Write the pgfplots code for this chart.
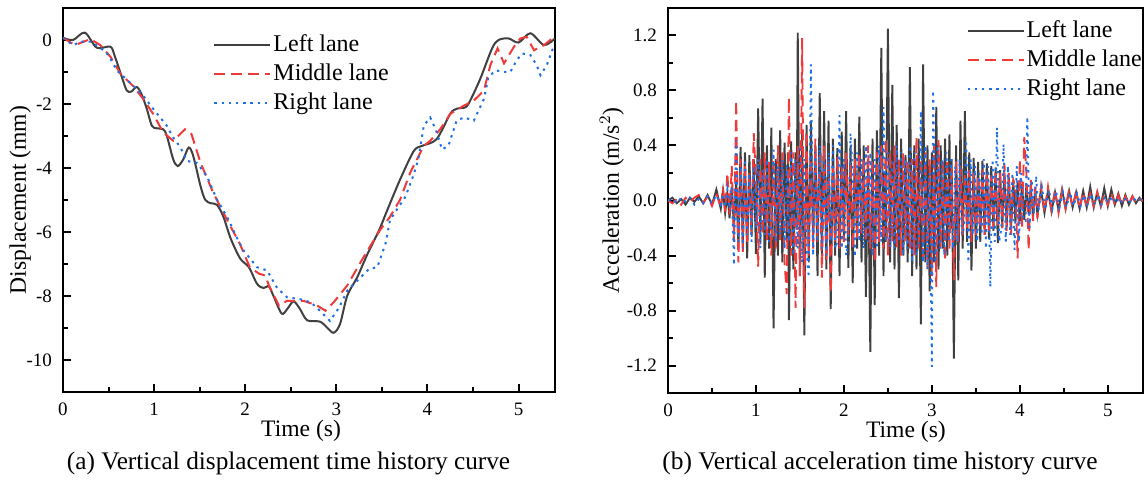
\documentclass[border=0pt]{standalone}
\usepackage{fontspec}
\setmainfont{Liberation Serif}
\usepackage{pgfplots}
\pgfplotsset{compat=1.18}

\definecolor{lanegray}{RGB}{64,64,64}
\definecolor{lanered}{RGB}{240,58,58}
\definecolor{laneblue}{RGB}{30,112,232}

\pgfplotsset{
  panel/.style={
    scale only axis,
    axis line style={line width=1.3pt},
    tick align=inside,
    xtick pos=left, ytick pos=left,
    major tick length=4pt, minor tick length=2.5pt,
    every tick/.style={line width=1pt, black},
    xmin=0, xmax=5.4, xtick={0,1,2,3,4,5},
    minor x tick num=1, minor y tick num=1,
    tick label style={font=\fontsize{9.5}{10}\selectfont},
    xticklabel style={yshift=-2pt},
    yticklabel style={xshift=-2pt},
    /pgf/number format/assume math mode=true,
    label style={font=\fontsize{11.8}{12}\selectfont},
    legend style={draw=none, fill=none, anchor=north west, inner sep=0pt,
      font=\fontsize{12}{13}\selectfont, row sep=1.5pt,
      nodes={text height=8.5pt, text depth=2.5pt, inner sep=1pt}},
    legend cell align=left,
    legend image code/.code={\draw[#1] (0pt,0pt) -- (28pt,0pt);},
  },
  lleft/.style={lanegray, line width=1pt},
  lmid/.style={lanered, line width=1pt, dash pattern=on 5.5pt off 3pt},
  lright/.style={laneblue, line width=1pt, dash pattern=on 1.2pt off 2.4pt},
}

\begin{document}
\begin{tikzpicture}
\path[use as bounding box] (0,0) rectangle (574pt,-241pt);

% (a) displacement
\begin{axis}[
  panel,
  at={(31.5pt,-4pt)}, anchor=north west,
  width=246pt, height=192pt,
  ymin=-11, ymax=1,
  ytick={-10,-8,-6,-4,-2,0},
  xlabel={Time (s)},
  ylabel={Displacement (mm)},
  xlabel style={at={(axis description cs:0.484,-0.1)}, anchor=center},
  ylabel style={at={(axis description cs:-0.087,0.5)}, anchor=center},
  legend style={at={(axis description cs:0.305,0.938)}},
]
\addplot[lleft, smooth] coordinates {
  (0,0.07) (0.11,0.00) (0.24,0.23) (0.37,-0.24) (0.52,-0.21) (0.57,-0.52)
  (0.645,-1.15) (0.70,-1.58) (0.75,-1.61) (0.81,-1.47) (0.86,-1.68) (0.92,-2.15)
  (0.975,-2.68) (1.03,-2.76) (1.10,-2.79) (1.14,-3.0) (1.21,-3.73) (1.26,-3.94)
  (1.32,-3.73) (1.38,-3.36) (1.43,-3.63) (1.51,-4.57) (1.56,-4.99) (1.62,-5.10)
  (1.69,-5.15) (1.76,-5.52) (1.84,-6.20) (1.945,-6.83) (2.04,-7.10) (2.13,-7.62)
  (2.20,-7.75) (2.26,-7.70) (2.31,-8.0) (2.40,-8.55) (2.46,-8.41) (2.53,-8.17)
  (2.60,-8.40) (2.68,-8.76) (2.82,-8.80) (2.90,-8.99) (2.97,-9.15) (3.04,-8.88)
  (3.12,-7.99) (3.23,-7.41) (3.34,-6.70) (3.47,-5.94) (3.56,-5.31) (3.70,-4.36)
  (3.85,-3.47) (3.94,-3.31) (4.10,-3.10) (4.25,-2.31) (4.32,-2.15) (4.42,-2.10)
  (4.47,-1.89) (4.58,-1.21) (4.71,-0.26) (4.78,0.00) (4.89,0.05) (5.00,-0.08)
  (5.13,0.21) (5.28,-0.16) (5.40,0.05)
};
\addplot[lmid] coordinates {
  (0,0.07) (0.13,-0.16) (0.30,0.03) (0.41,-0.16) (0.52,-0.52) (0.63,-1.05)
  (0.77,-1.44) (0.88,-1.84) (0.99,-2.31) (1.10,-2.89) (1.21,-3.15) (1.34,-2.79)
  (1.41,-2.94) (1.51,-3.84) (1.65,-4.78) (1.80,-5.62) (1.94,-6.36) (2.05,-7.1)
  (2.15,-7.30) (2.22,-7.36) (2.26,-7.67) (2.37,-8.30) (2.46,-8.15) (2.64,-8.15)
  (2.79,-8.30) (2.88,-8.46) (2.97,-8.20) (3.12,-7.67) (3.30,-6.78) (3.48,-5.94)
  (3.59,-5.52) (3.70,-4.99) (3.81,-4.15) (3.96,-3.31) (4.03,-3.15) (4.14,-2.79)
  (4.25,-2.31) (4.40,-2.05) (4.51,-1.89) (4.62,-1.58) (4.69,-0.79) (4.77,-0.26)
  (4.84,-0.73) (4.95,-0.21) (5.02,0.05) (5.09,0.10) (5.17,-0.32) (5.28,-0.16)
  (5.39,0.10)
};
\addplot[lright] coordinates {
  (0,0.07) (0.11,-0.16) (0.20,-0.05) (0.30,-0.05) (0.41,-0.24) (0.50,-0.47)
  (0.59,-0.95) (0.75,-1.37) (0.88,-1.74) (0.99,-2.15) (1.14,-2.68) (1.21,-3.05)
  (1.29,-3.36) (1.36,-3.78) (1.47,-3.84) (1.58,-4.26) (1.69,-4.99) (1.80,-5.52)
  (1.93,-6.31) (1.98,-6.57) (2.13,-7.10) (2.24,-7.20) (2.35,-7.75) (2.46,-8.04)
  (2.60,-8.10) (2.72,-8.20) (2.82,-8.46) (2.93,-8.78) (3.03,-8.36) (3.12,-7.83)
  (3.23,-7.52) (3.36,-7.15) (3.45,-7.10) (3.54,-6.36) (3.59,-5.62) (3.76,-4.89)
  (3.85,-4.20) (3.90,-3.73) (3.96,-2.68) (4.03,-2.42) (4.09,-2.79) (4.16,-3.42)
  (4.23,-3.31) (4.32,-2.52) (4.40,-2.42) (4.51,-2.52) (4.62,-1.84) (4.67,-1.15)
  (4.75,-0.95) (4.84,-1.00) (4.91,-1.00) (4.98,-0.63) (5.04,-0.42) (5.13,-0.47)
  (5.20,-0.79) (5.24,-1.10) (5.31,-0.79) (5.39,-0.16)
};
\legend{Left lane, Middle lane, Right lane}
\end{axis}

% (b) acceleration
\begin{axis}[
  panel,
  at={(334pt,-4pt)}, anchor=north west,
  width=237.5pt, height=192.5pt,
  ymin=-1.4, ymax=1.4,
  ytick={-1.2,-0.8,-0.4,0,0.4,0.8,1.2},
  yticklabel style={/pgf/number format/.cd, fixed, fixed zerofill, precision=1},
  xlabel={Time (s)},
  ylabel={Acceleration (m/s$^2$)},
  xlabel style={at={(axis description cs:0.501,-0.1)}, anchor=center},
  ylabel style={at={(axis description cs:-0.118,0.5)}, anchor=center},
  legend style={at={(axis description cs:0.628,0.974)}},
]
\addplot[lleft, line width=0.95pt] coordinates {
  (0,0) (0.05,0.02) (0.1,-0.02) (0.15,0.01) (0.2,-0.03) (0.25,0.02) (0.3,-0.01)
  (0.35,0.03) (0.4,-0.02) (0.45,0.04) (0.5,-0.03) (0.55,0.08) (0.6,-0.06)
  (0.625,0.07) (0.65,-0.09) (0.675,0.05) (0.7,-0.13) (0.725,0.1) (0.75,-0.2)
  (0.775,0.15) (0.8,-0.35) (0.825,0.39) (0.85,-0.3) (0.875,0.35) (0.9,-0.42)
  (0.925,0.33) (0.95,-0.25) (0.975,0.3) (1,-0.39) (1.025,0.67) (1.05,-0.3)
  (1.075,0.74) (1.1,-0.56) (1.125,0.4) (1.15,-0.35) (1.175,0.53) (1.2,-0.93)
  (1.225,0.3) (1.25,-0.4) (1.275,0.51) (1.3,-0.45) (1.325,0.42) (1.35,-0.3)
  (1.3625,0.35) (1.375,-0.87) (1.4,0.43) (1.425,-0.5) (1.45,0.35) (1.4625,-0.2)
  (1.475,1.22) (1.5,-0.55) (1.525,0.5) (1.55,-0.98) (1.575,0.55) (1.6,-0.45)
  (1.625,0.58) (1.65,-0.3) (1.675,0.4) (1.7,-0.55) (1.725,0.78) (1.75,-0.4)
  (1.775,0.65) (1.8,-0.5) (1.825,0.58) (1.85,-0.79) (1.875,0.45) (1.9,-0.4)
  (1.925,0.38) (1.95,-0.55) (1.975,0.5) (2,-0.3) (2.025,0.65) (2.05,-0.49)
  (2.075,0.4) (2.1,-0.6) (2.125,0.45) (2.15,-0.35) (2.175,0.61) (2.2,-0.45)
  (2.225,0.4) (2.25,-0.7) (2.275,0.3) (2.3,-1.1) (2.325,0.45) (2.35,-0.76)
  (2.375,0.51) (2.4,-0.4) (2.425,1.11) (2.45,-0.55) (2.4625,0.2) (2.475,-0.3)
  (2.5,1.25) (2.525,-0.45) (2.55,0.84) (2.575,-0.5) (2.6,0.55) (2.625,-0.71)
  (2.65,0.45) (2.675,-0.4) (2.7,0.33) (2.725,-0.45) (2.75,0.97) (2.775,-0.55)
  (2.8,0.4) (2.825,-0.5) (2.85,0.45) (2.875,-0.9) (2.9,0.99) (2.925,-0.45)
  (2.95,0.4) (2.975,-0.66) (3,0.35) (3.025,-0.45) (3.05,0.68) (3.075,-0.5)
  (3.1,0.4) (3.125,-0.35) (3.15,0.45) (3.175,-0.4) (3.2,0.48) (3.2125,-0.2)
  (3.225,0.3) (3.25,-1.15) (3.275,0.4) (3.3,-0.58) (3.325,0.58) (3.35,-0.35)
  (3.375,0.65) (3.4,-0.3) (3.425,0.35) (3.45,-0.51) (3.475,0.31) (3.5,-0.35)
  (3.525,0.28) (3.55,-0.3) (3.575,0.29) (3.6,-0.25) (3.625,0.27) (3.65,-0.28)
  (3.675,0.25) (3.7,-0.22) (3.725,0.24) (3.75,-0.31) (3.775,0.22) (3.8,-0.2)
  (3.825,0.2) (3.85,-0.18) (3.875,0.17) (3.9,-0.2) (3.925,0.15) (3.95,-0.16)
  (3.975,0.14) (4,-0.15) (4.025,0.12) (4.05,-0.14) (4.075,0.12) (4.1,-0.1)
  (4.125,0.1) (4.15,-0.12) (4.175,0.08) (4.2,-0.1) (4.24,0.08) (4.28,-0.09)
  (4.32,0.07) (4.36,-0.08) (4.4,0.06) (4.44,-0.07) (4.48,0.08) (4.52,-0.06)
  (4.56,0.07) (4.6,-0.05) (4.64,0.06) (4.68,-0.06) (4.72,0.07) (4.76,-0.05)
  (4.8,0.1) (4.84,-0.05) (4.88,0.06) (4.92,-0.04) (4.96,0.09) (5,-0.04)
  (5.04,0.08) (5.08,-0.03) (5.12,0.05) (5.16,-0.04) (5.2,0.04) (5.24,-0.03)
  (5.28,0.03) (5.32,-0.02) (5.36,0.02) (5.4,-0.01)
};
\addplot[lmid, line width=0.95pt] coordinates {
  (0,0) (0.05,-0.02) (0.1,0.01) (0.15,-0.03) (0.2,0.02) (0.25,-0.01) (0.3,0.02)
  (0.35,0.04) (0.4,-0.02) (0.45,0.03) (0.5,-0.04) (0.55,0.05) (0.6,-0.05)
  (0.625,0.1) (0.65,-0.08) (0.675,0.2) (0.7,-0.1) (0.725,0.25) (0.75,-0.3)
  (0.775,0.73) (0.8,-0.45) (0.825,0.3) (0.85,-0.38) (0.875,0.25) (0.9,-0.3)
  (0.925,0.2) (0.95,-0.25) (0.975,0.49) (1,0.15) (1.025,-0.48) (1.05,0.3)
  (1.075,-0.25) (1.1,0.35) (1.125,-0.3) (1.15,0.28) (1.175,-0.4) (1.2,0.3)
  (1.225,-0.35) (1.25,0.4) (1.275,-0.3) (1.3,0.35) (1.325,-0.45) (1.35,-0.68)
  (1.375,0.75) (1.4,-0.4) (1.425,0.35) (1.45,-0.78) (1.475,0.4) (1.5,-0.55)
  (1.525,1.18) (1.55,-0.78) (1.575,0.5) (1.6,-0.4) (1.625,0.3) (1.65,-0.35)
  (1.675,0.45) (1.7,-0.3) (1.725,0.35) (1.75,-0.56) (1.775,0.4) (1.8,-0.45)
  (1.825,0.3) (1.85,-0.67) (1.875,0.25) (1.9,-0.3) (1.925,0.32) (1.95,-0.35)
  (1.975,0.25) (2,-0.3) (2.025,0.35) (2.05,-0.25) (2.075,0.27) (2.1,-0.35)
  (2.125,0.3) (2.15,-0.28) (2.175,0.35) (2.2,-0.24) (2.225,0.3) (2.25,-0.3)
  (2.275,0.4) (2.3,-0.35) (2.325,0.3) (2.35,-0.45) (2.375,0.35) (2.4,-0.3)
  (2.425,0.4) (2.45,-0.35) (2.475,0.45) (2.5,-0.4) (2.525,0.35) (2.55,-0.3)
  (2.575,0.4) (2.6,-0.35) (2.625,0.3) (2.65,-0.4) (2.675,0.35) (2.7,-0.3)
  (2.725,0.3) (2.75,-0.35) (2.775,0.3) (2.8,-0.4) (2.825,0.46) (2.85,-0.35)
  (2.875,0.3) (2.9,-0.45) (2.925,0.35) (2.95,-0.5) (2.975,0.3) (3,-0.55)
  (3.025,0.4) (3.05,-0.63) (3.075,0.44) (3.1,-0.35) (3.125,0.3) (3.15,-0.44)
  (3.175,0.3) (3.2,-0.35) (3.225,0.25) (3.25,-0.58) (3.275,0.3) (3.3,-0.3)
  (3.325,0.25) (3.35,-0.25) (3.375,0.2) (3.4,-0.2) (3.425,0.22) (3.45,-0.3)
  (3.475,0.2) (3.5,-0.25) (3.525,0.18) (3.55,-0.2) (3.575,0.22) (3.6,-0.25)
  (3.625,0.2) (3.65,-0.22) (3.675,0.18) (3.7,-0.2) (3.725,0.22) (3.75,-0.18)
  (3.775,0.2) (3.8,-0.2) (3.825,0.27) (3.85,-0.22) (3.875,0.2) (3.9,-0.25)
  (3.925,0.15) (3.95,0.1) (3.975,-0.42) (4,0.3) (4.025,-0.2) (4.05,0.46)
  (4.075,0.2) (4.1,-0.36) (4.125,0.15) (4.15,-0.15) (4.175,0.1) (4.2,-0.13)
  (4.24,0.1) (4.28,-0.08) (4.32,0.1) (4.36,-0.07) (4.4,0.08) (4.44,-0.09)
  (4.48,0.07) (4.52,-0.06) (4.56,0.08) (4.6,-0.05) (4.64,0.07) (4.68,-0.06)
  (4.72,0.06) (4.76,-0.05) (4.8,0.05) (4.84,-0.04) (4.88,0.06) (4.92,-0.04)
  (4.96,0.04) (5,-0.03) (5.04,0.05) (5.08,-0.03) (5.12,0.04) (5.16,-0.03)
  (5.2,0.03) (5.24,-0.02) (5.28,0.03) (5.32,-0.02) (5.36,0.01) (5.4,0)
};
\addplot[lright, line width=0.95pt] coordinates {
  (0,0) (0.05,0.01) (0.1,-0.02) (0.15,0.02) (0.2,-0.01) (0.25,0.02) (0.3,-0.03)
  (0.35,0.01) (0.4,-0.02) (0.45,0.03) (0.5,-0.02) (0.55,0.04) (0.6,-0.03)
  (0.625,0.05) (0.65,-0.05) (0.675,0.08) (0.7,-0.06) (0.725,0.1) (0.75,-0.47)
  (0.775,0.44) (0.8,-0.3) (0.825,0.25) (0.85,-0.35) (0.875,0.3) (0.9,-0.25)
  (0.925,0.2) (0.95,-0.3) (0.975,0.25) (1,-0.2) (1.025,0.3) (1.05,-0.35)
  (1.075,0.22) (1.1,-0.25) (1.125,0.3) (1.15,-0.3) (1.175,-0.2) (1.2,0.37)
  (1.225,-0.3) (1.25,0.25) (1.275,-0.25) (1.3,0.3) (1.325,-0.35) (1.35,0.25)
  (1.375,-0.3) (1.4,0.35) (1.425,-0.4) (1.45,0.3) (1.475,-0.35) (1.5,0.4)
  (1.525,-0.45) (1.55,0.3) (1.575,-0.35) (1.6,-0.56) (1.625,0.99) (1.65,-0.4)
  (1.675,0.35) (1.7,-0.3) (1.725,0.4) (1.75,-0.35) (1.775,0.3) (1.8,-0.4)
  (1.825,0.35) (1.85,-0.3) (1.875,0.4) (1.9,-0.35) (1.925,-0.3) (1.95,0.62)
  (1.975,-0.35) (2,0.3) (2.025,-0.4) (2.05,-0.3) (2.075,0.49) (2.1,0.2)
  (2.125,-0.41) (2.15,0.35) (2.175,-0.3) (2.2,0.3) (2.225,-0.35) (2.25,0.4)
  (2.275,-0.3) (2.3,0.35) (2.325,-0.4) (2.35,0.3) (2.375,-0.35) (2.4,0.4)
  (2.425,-0.3) (2.45,0.68) (2.475,-0.3) (2.5,0.35) (2.525,-0.34) (2.55,0.3)
  (2.575,-0.35) (2.6,0.4) (2.625,-0.3) (2.65,0.35) (2.675,-0.4) (2.7,0.3)
  (2.725,-0.35) (2.75,0.4) (2.775,-0.45) (2.8,0.35) (2.825,-0.4) (2.85,-0.3)
  (2.875,0.65) (2.9,-0.45) (2.925,0.4) (2.95,-0.5) (2.975,0.2) (3,-1.21)
  (3.015,0.8) (3.04,-0.45) (3.065,0.4) (3.09,-0.35) (3.115,0.3) (3.14,-0.4)
  (3.165,0.35) (3.19,-0.3) (3.215,0.3) (3.24,-0.35) (3.265,0.25) (3.29,-0.3)
  (3.315,0.3) (3.34,-0.25) (3.365,-0.2) (3.39,0.44) (3.415,-0.45) (3.44,0.3)
  (3.465,-0.25) (3.49,0.25) (3.515,-0.3) (3.54,0.2) (3.565,-0.25) (3.59,0.3)
  (3.615,-0.35) (3.64,0.25) (3.665,-0.63) (3.69,0.3) (3.715,-0.3) (3.74,0.53)
  (3.765,-0.3) (3.79,-0.2) (3.815,0.41) (3.84,-0.3) (3.865,0.25) (3.89,-0.25)
  (3.915,0.2) (3.94,-0.36) (3.965,0.25) (3.99,-0.3) (4.015,0.2) (4.04,-0.15)
  (4.065,-0.15) (4.085,0.61) (4.11,-0.2) (4.135,0.15) (4.16,-0.1) (4.185,0.18)
  (4.21,-0.08) (4.25,0.1) (4.29,-0.07) (4.33,0.08) (4.37,-0.06) (4.41,0.07)
  (4.45,-0.05) (4.49,0.06) (4.53,-0.05) (4.57,0.06) (4.61,-0.04) (4.65,0.05)
  (4.69,-0.04) (4.73,0.04) (4.77,-0.03) (4.81,0.05) (4.85,-0.03) (4.89,0.04)
  (4.93,-0.03) (4.97,0.03) (5.01,-0.02) (5.05,0.03) (5.09,-0.02) (5.13,0.02)
  (5.17,-0.02) (5.21,0.02) (5.25,-0.01) (5.29,0.02) (5.33,-0.01) (5.37,0.01)
  (5.4,0)
};
\legend{Left lane, Middle lane, Right lane}
\end{axis}

% panel captions
\node[font=\fontsize{12.65}{14}\selectfont] at (144.25pt,-231.5pt)
  {(a) Vertical displacement time history curve};
\node[font=\fontsize{12.7}{14}\selectfont] at (440pt,-231.5pt)
  {(b) Vertical acceleration time history curve};
\end{tikzpicture}
\end{document}
